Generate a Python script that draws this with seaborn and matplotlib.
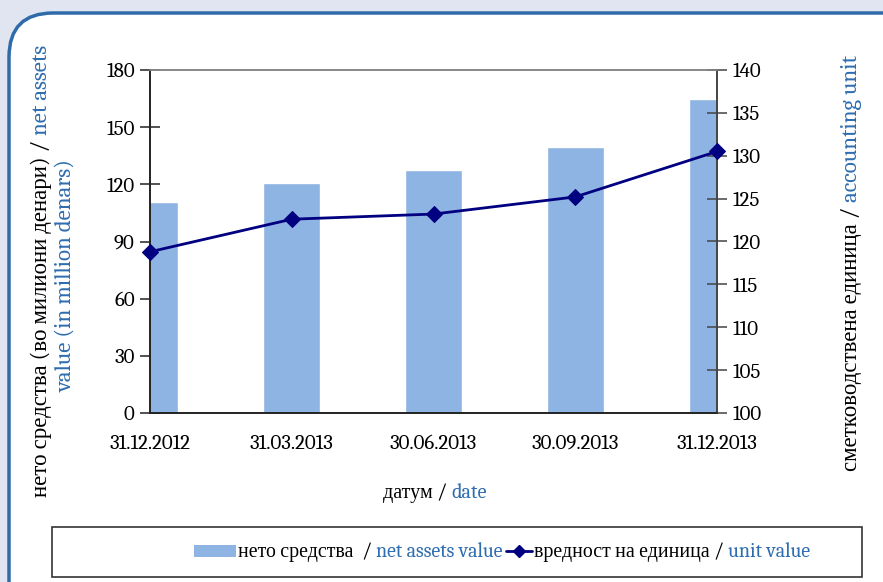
import matplotlib
matplotlib.use("Agg")
import matplotlib.pyplot as plt
import seaborn as sns
import pandas as pd
from matplotlib.patches import FancyBboxPatch, Rectangle
from matplotlib.lines import Line2D

dates = ["31.12.2012", "31.03.2013", "30.06.2013", "30.09.2013", "31.12.2013"]
net_assets = [110.5, 120.5, 127.5, 139.7, 164.7]
unit_value = [118.8, 122.6, 123.2, 125.2, 130.5]
left_ticks = [0, 30, 60, 90, 120, 150, 180]
right_ticks = [100, 105, 110, 115, 120, 125, 130, 135, 140]

BAR = "#8EB4E3"
LINE = "#000080"
BLUE = "#2E6DAF"
BG = "#E1E4F1"
FONT = ["Caladea", "Liberation Serif", "DejaVu Serif"]

sns.set_theme(style="white")
plt.rcParams["font.family"] = FONT

W, H = 883, 582
fig = plt.figure(figsize=(W / 100, H / 100), dpi=100, facecolor=BG)

def fx(x):
    return x / W

def fy(y):
    return 1 - y / H

# rounded frame
frame = FancyBboxPatch((fx(9), fy(640)), fx(930) - fx(9), fy(13) - fy(640),
                       boxstyle="round,pad=0,rounding_size=0.05",
                       transform=fig.transFigure, facecolor="white",
                       edgecolor="#2F6BA8", linewidth=2.5, mutation_aspect=W / H,
                       zorder=-5)
fig.patches.append(frame)

ax = fig.add_axes([fx(150), fy(413), fx(717) - fx(150), fy(70) - fy(413)])
ax.set_facecolor("none")
df = pd.DataFrame({"date": dates, "net": net_assets, "unit": unit_value})
sns.barplot(data=df, x="date", y="net", color=BAR, width=0.4, saturation=1,
            ax=ax, zorder=2)
ax.set_xlim(0, 4)
ax.set_ylim(0, 180)
ax.set_yticks(left_ticks)
ax.set_xlabel("")
ax.set_ylabel("")

ax2 = ax.twinx()
sns.lineplot(x=list(range(len(dates))), y=unit_value, ax=ax2, color=LINE,
             linewidth=2, marker="D", markersize=8, markeredgecolor=LINE,
             clip_on=False, zorder=5)
ax2.set_ylim(100, 140)
ax2.set_yticks(right_ticks)
ax2.set_xlim(0, 4)

for a in (ax, ax2):
    for s in a.spines.values():
        s.set_linewidth(1.2)
    a.spines["top"].set_color("#888888")
    a.spines["left"].set_color("#222222")
    a.spines["bottom"].set_color("#222222")
    a.spines["right"].set_color("#444444")
ax.tick_params(axis="both", direction="inout", length=14, width=1.1,
               color="#222222", labelsize=15, pad=4, labelcolor="black")
ax.tick_params(axis="x", pad=8)
ax2.tick_params(axis="y", direction="inout", length=14, width=1.1,
                color="#444444", labelsize=15, pad=4, labelcolor="black")
for lab in ax.get_xticklabels() + ax.get_yticklabels() + ax2.get_yticklabels():
    lab.set_fontfamily(FONT)

renderer = fig.canvas.get_renderer()

def seq_text(pieces, x, y, rotation=0, size=14):
    """Draw coloured pieces one after another, starting at pixel (x, y)."""
    cx, cy = x, y
    for txt, col in pieces:
        t = fig.text(fx(cx), fy(cy), txt, color=col, fontsize=size,
                     family=FONT, rotation=rotation, rotation_mode="anchor",
                     ha="left", va="baseline")
        bb = t.get_window_extent(renderer)
        if rotation == 0:
            cx += bb.width
        else:
            cy -= bb.height

# left y label
seq_text([("нето средства (во милиони денари) / ", "black"), ("net assets", BLUE)],
         47, 497, rotation=90, size=16.5)
seq_text([("value (in million denars)", BLUE)], 71, 392, rotation=90, size=16.5)
# right y label
seq_text([("сметководствена единица / ", "black"), ("accounting unit", BLUE)],
         857, 471, rotation=90, size=16.5)
# x label
seq_text([("датум / ", "black"), ("date", BLUE)], 383, 498, size=14.5)

# legend
leg = Rectangle((fx(52), fy(577)), fx(862) - fx(52), fy(527) - fy(577),
                transform=fig.transFigure, facecolor="white",
                edgecolor="#333333", linewidth=1.2)
fig.patches.append(leg)
fig.patches.append(Rectangle((fx(194), fy(557)), fx(236) - fx(194), fy(545) - fy(557),
                             transform=fig.transFigure, facecolor=BAR, edgecolor="none"))
seq_text([("нето средства  / ", "black"), ("net assets value", BLUE)], 238, 557, size=14.3)
fig.lines.append(Line2D([fx(506), fx(532)], [fy(551), fy(551)], color=LINE, lw=2,
                        transform=fig.transFigure))
fig.lines.append(Line2D([fx(519)], [fy(551)], color=LINE, marker="D", markersize=6,
                        transform=fig.transFigure))
seq_text([("вредност на единица / ", "black"), ("unit value", BLUE)], 534, 557, size=14.3)

fig.savefig("out.png", dpi=100, facecolor=BG)
